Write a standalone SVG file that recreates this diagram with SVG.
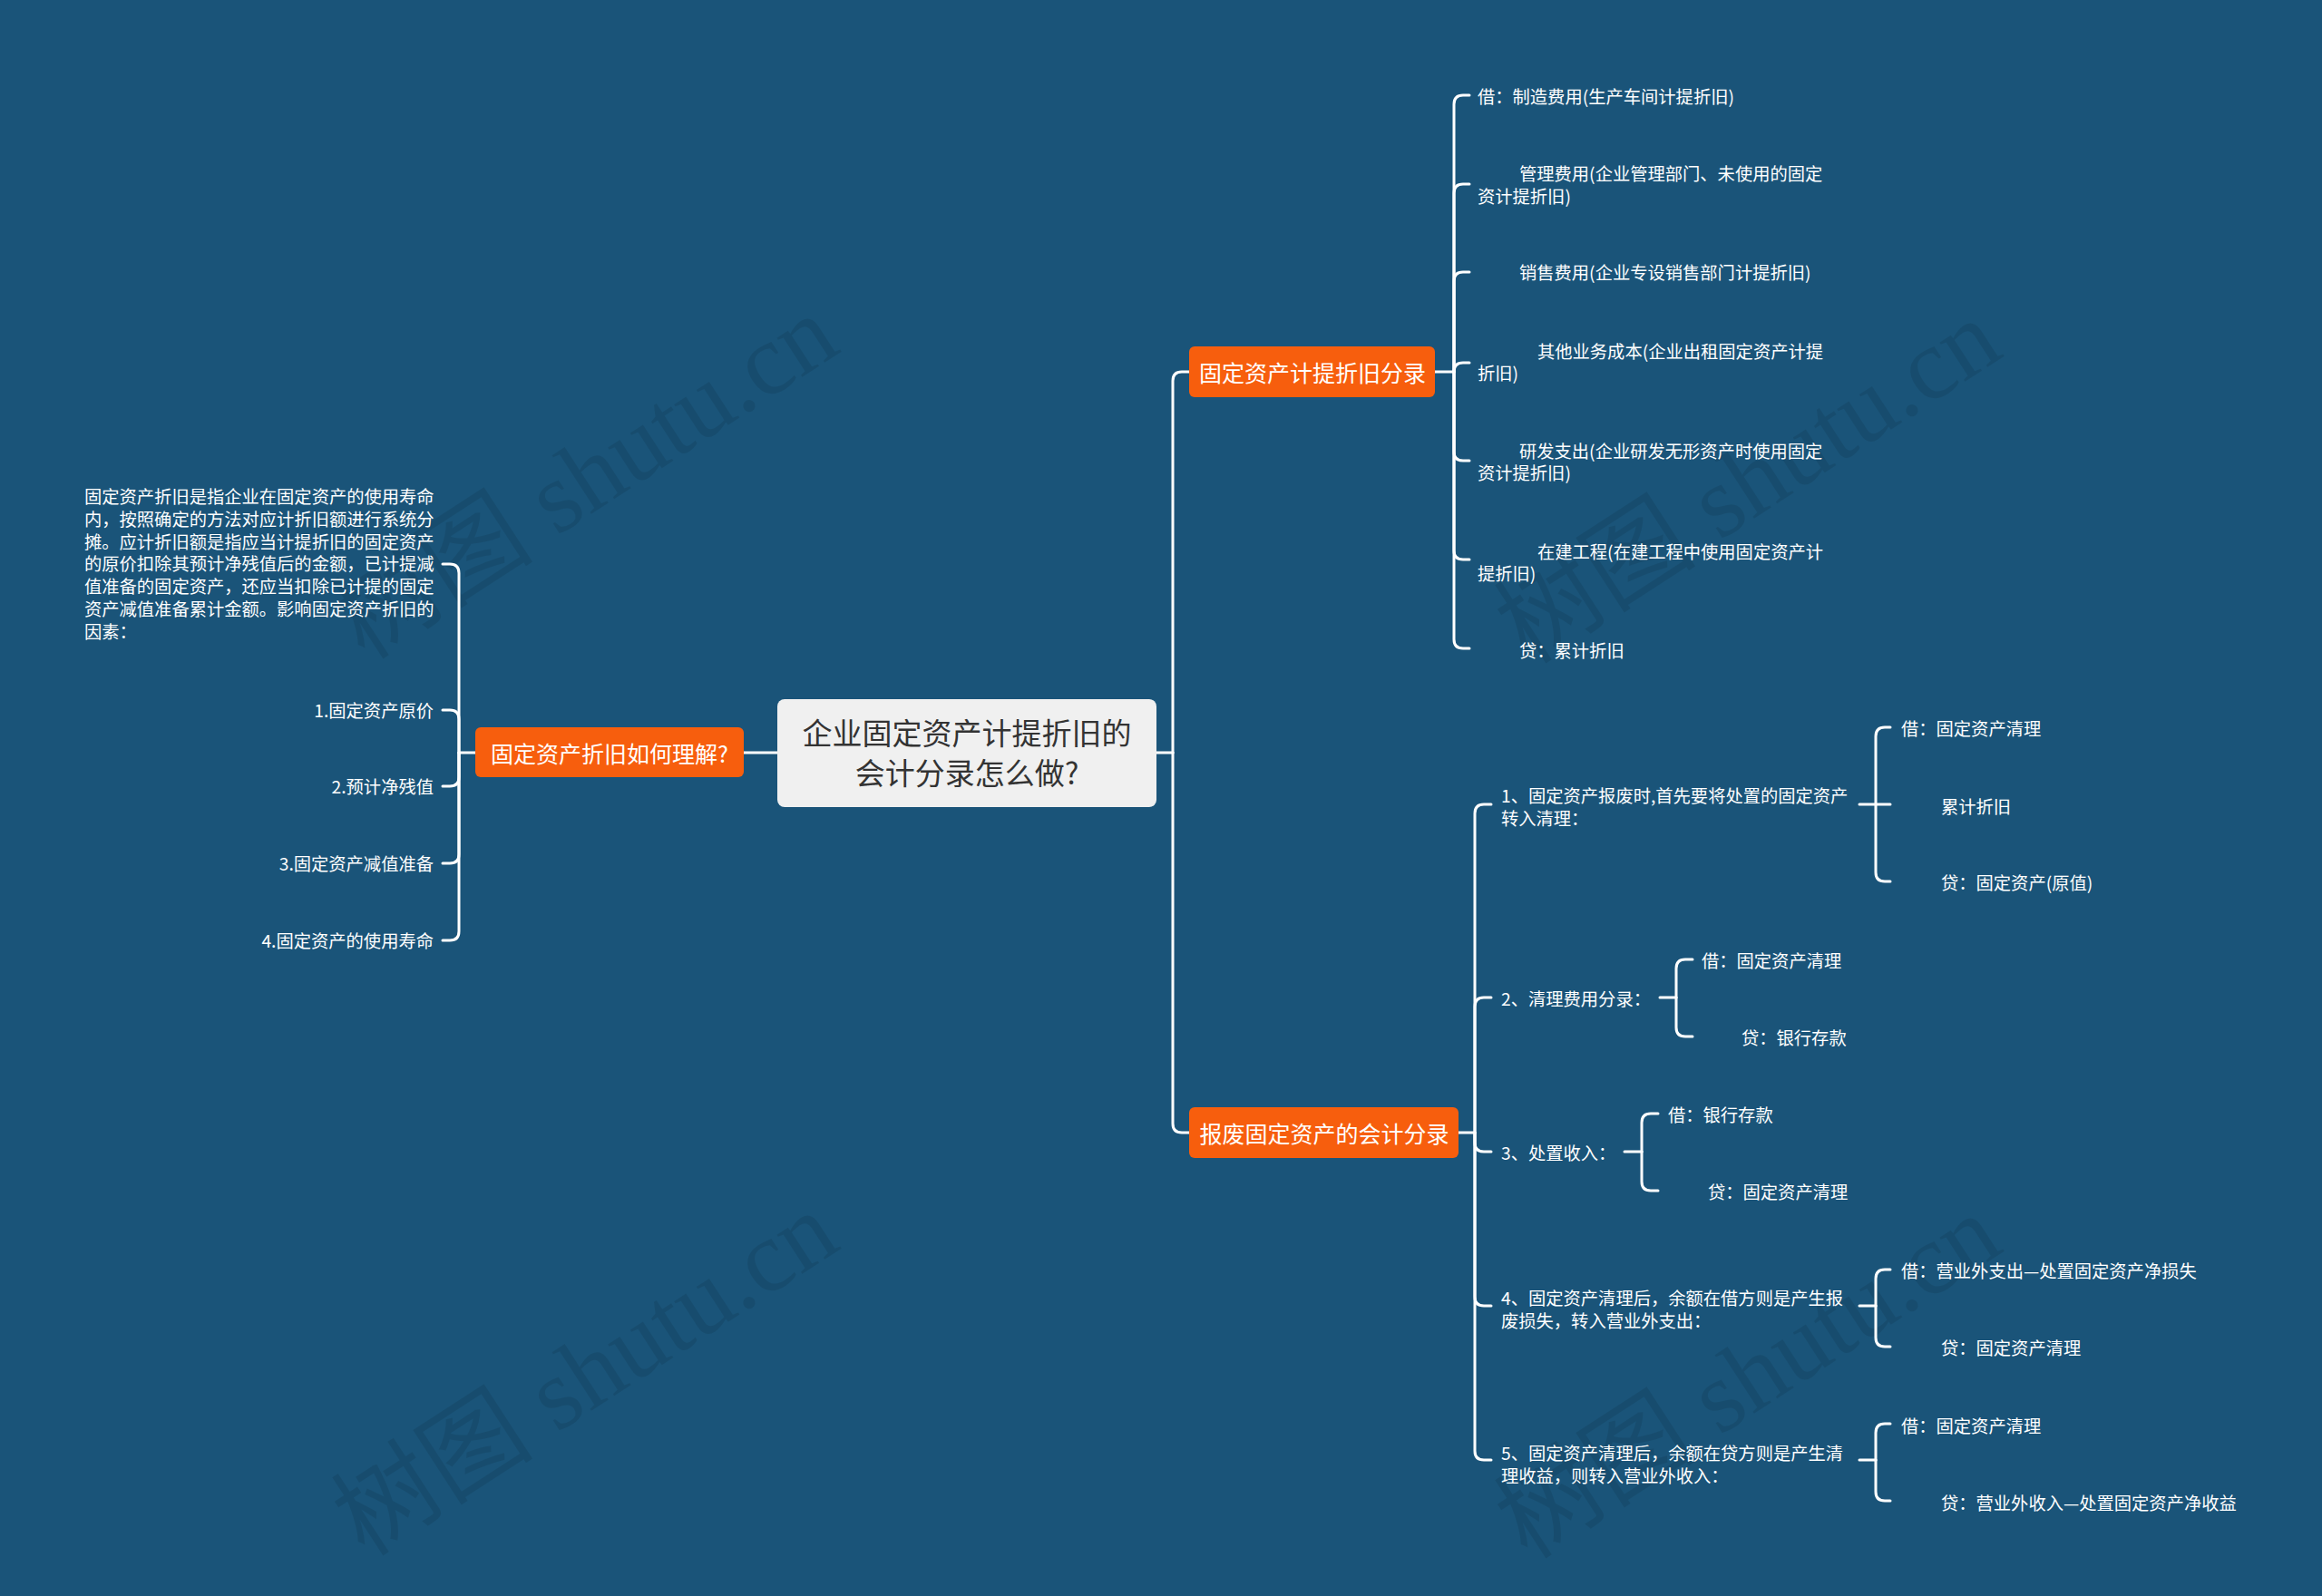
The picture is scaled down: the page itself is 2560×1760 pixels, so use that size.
<svg xmlns="http://www.w3.org/2000/svg" width="2560" height="1760" viewBox="0 0 2560 1760">
<style>
.bg{fill:#1a5479}
.wm{font-family:"Liberation Serif","Noto Sans CJK SC",serif;font-size:112px;fill:#000;fill-opacity:0.09}
.c{fill:none;stroke:#ffffff;stroke-width:3;stroke-linecap:round;stroke-linejoin:round}
.root{fill:#f0f0f0}
.org{fill:#f75e0d}
.rt{font-family:"Noto Sans CJK SC","Noto Sans",sans-serif;font-size:33px;fill:#333333;text-anchor:middle;dominant-baseline:central}
.ot{font-family:"Noto Sans CJK SC","Noto Sans",sans-serif;font-size:25px;fill:#ffffff;text-anchor:middle;dominant-baseline:central}
.t{font-family:"Noto Sans CJK SC","Noto Sans",sans-serif;font-size:19.3px;fill:#ffffff;dominant-baseline:central}
.r{text-anchor:end}
</style>
<rect class="bg" x="0" y="0" width="2560" height="1760"/>
<g id="watermarks">
<text class="wm" x="645" y="526" text-anchor="middle" dominant-baseline="central" transform="rotate(-33 645 526)">树图 shutu.cn</text>
<text class="wm" x="1927" y="531" text-anchor="middle" dominant-baseline="central" transform="rotate(-33 1927 531)">树图 shutu.cn</text>
<text class="wm" x="645" y="1515" text-anchor="middle" dominant-baseline="central" transform="rotate(-33 645 1515)">树图 shutu.cn</text>
<text class="wm" x="1927" y="1518" text-anchor="middle" dominant-baseline="central" transform="rotate(-33 1927 1518)">树图 shutu.cn</text>
</g>
<g id="connectors">
<path class="c" d="M857,830 L820,830"/>
<path class="c" d="M524,830 L506,830"/>
<path class="c" d="M506,830 L506,632 Q506,622 496,622 L488,622"/>
<path class="c" d="M506,830 L506,793 Q506,783 496,783 L488,783"/>
<path class="c" d="M506,830 L506,857 Q506,867 496,867 L488,867"/>
<path class="c" d="M506,830 L506,942 Q506,952 496,952 L488,952"/>
<path class="c" d="M506,830 L506,1027 Q506,1037 496,1037 L488,1037"/>
<path class="c" d="M1275,830 L1293,830"/>
<path class="c" d="M1293,830 L1293,420 Q1293,410 1303,410 L1311,410"/>
<path class="c" d="M1293,830 L1293,1239 Q1293,1249 1303,1249 L1311,1249"/>
<path class="c" d="M1582,410 L1603,410"/>
<path class="c" d="M1603,410 L1603,115 Q1603,105 1613,105 L1620,105"/>
<path class="c" d="M1603,410 L1603,213 Q1603,203 1613,203 L1620,203"/>
<path class="c" d="M1603,410 L1603,310 Q1603,300 1613,300 L1620,300"/>
<path class="c" d="M1603,410 Q1603,400 1613,400 L1620,400"/>
<path class="c" d="M1603,410 L1603,498 Q1603,508 1613,508 L1620,508"/>
<path class="c" d="M1603,410 L1603,607 Q1603,617 1613,617 L1620,617"/>
<path class="c" d="M1603,410 L1603,705 Q1603,715 1613,715 L1620,715"/>
<path class="c" d="M1608,1249 L1626,1249"/>
<path class="c" d="M1626,1249 L1626,897 Q1626,887 1636,887 L1644,887"/>
<path class="c" d="M1626,1249 L1626,1110 Q1626,1100 1636,1100 L1644,1100"/>
<path class="c" d="M1626,1249 L1626,1260 Q1626,1270 1636,1270 L1644,1270"/>
<path class="c" d="M1626,1249 L1626,1430 Q1626,1440 1636,1440 L1644,1440"/>
<path class="c" d="M1626,1249 L1626,1600 Q1626,1610 1636,1610 L1644,1610"/>
<path class="c" d="M2050,887 L2084,887"/>
<path class="c" d="M2068,887 L2068,812 Q2068,802 2078,802 L2084,802"/>
<path class="c" d="M2068,887 L2068,962 Q2068,972 2078,972 L2084,972"/>
<path class="c" d="M1830,1100 L1848,1100"/>
<path class="c" d="M1848,1100 L1848,1068 Q1848,1058 1858,1058 L1866,1058"/>
<path class="c" d="M1848,1100 L1848,1133 Q1848,1143 1858,1143 L1866,1143"/>
<path class="c" d="M1791,1270 L1810,1270"/>
<path class="c" d="M1810,1270 L1810,1238 Q1810,1228 1820,1228 L1828,1228"/>
<path class="c" d="M1810,1270 L1810,1303 Q1810,1313 1820,1313 L1828,1313"/>
<path class="c" d="M2050,1440 L2068,1440"/>
<path class="c" d="M2068,1440 L2068,1410 Q2068,1400 2078,1400 L2084,1400"/>
<path class="c" d="M2068,1440 L2068,1475 Q2068,1485 2078,1485 L2084,1485"/>
<path class="c" d="M2050,1610 L2068,1610"/>
<path class="c" d="M2068,1610 L2068,1580 Q2068,1570 2078,1570 L2084,1570"/>
<path class="c" d="M2068,1610 L2068,1645 Q2068,1655 2078,1655 L2084,1655"/>
</g>
<g id="root">
<rect class="root" x="857" y="771" width="418" height="119" rx="8"/>
<text class="rt" x="1066" y="807">企业固定资产计提折旧的</text>
<text class="rt" x="1066" y="851">会计分录怎么做?</text>
</g>
<g id="n-left">
<rect class="org" x="524" y="802" width="296" height="55" rx="6"/>
<text class="ot" x="672" y="830">固定资产折旧如何理解?</text>
</g>
<g id="n-left-desc">
<text class="t" x="93" y="547">固定资产折旧是指企业在固定资产的使用寿命</text>
<text class="t" x="93" y="572">内，按照确定的方法对应计折旧额进行系统分</text>
<text class="t" x="93" y="597">摊。应计折旧额是指应当计提折旧的固定资产</text>
<text class="t" x="93" y="621">的原价扣除其预计净残值后的金额，已计提减</text>
<text class="t" x="93" y="646">值准备的固定资产，还应当扣除已计提的固定</text>
<text class="t" x="93" y="671">资产减值准备累计金额。影响固定资产折旧的</text>
<text class="t" x="93" y="696">因素：</text>
</g>
<g id="n-left-1"><text class="t r" x="478" y="783">1.固定资产原价</text></g>
<g id="n-left-2"><text class="t r" x="478" y="867">2.预计净残值</text></g>
<g id="n-left-3"><text class="t r" x="478" y="952">3.固定资产减值准备</text></g>
<g id="n-left-4"><text class="t r" x="478" y="1037">4.固定资产的使用寿命</text></g>
<g id="n-top">
<rect class="org" x="1311" y="382" width="271" height="56" rx="6"/>
<text class="ot" x="1447" y="410">固定资产计提折旧分录</text>
</g>
<g id="n-top-1"><text class="t" x="1629" y="106">借：制造费用(生产车间计提折旧)</text></g>
<g id="n-top-2"><text class="t" x="1675" y="191">管理费用(企业管理部门、未使用的固定</text><text class="t" x="1629" y="216">资计提折旧)</text></g>
<g id="n-top-3"><text class="t" x="1675" y="300">销售费用(企业专设销售部门计提折旧)</text></g>
<g id="n-top-4"><text class="t" x="1695" y="387">其他业务成本(企业出租固定资产计提</text><text class="t" x="1629" y="411">折旧)</text></g>
<g id="n-top-5"><text class="t" x="1675" y="497">研发支出(企业研发无形资产时使用固定</text><text class="t" x="1629" y="521">资计提折旧)</text></g>
<g id="n-top-6"><text class="t" x="1695" y="608">在建工程(在建工程中使用固定资产计</text><text class="t" x="1629" y="632">提折旧)</text></g>
<g id="n-top-7"><text class="t" x="1675" y="717">贷：累计折旧</text></g>
<g id="n-bottom">
<rect class="org" x="1311" y="1221" width="297" height="56" rx="6"/>
<text class="ot" x="1460" y="1249">报废固定资产的会计分录</text>
</g>
<g id="n-b1"><text class="t" x="1655" y="877">1、固定资产报废时,首先要将处置的固定资产</text><text class="t" x="1655" y="902">转入清理：</text></g>
<g id="n-b1-1"><text class="t" x="2096" y="803">借：固定资产清理</text></g>
<g id="n-b1-2"><text class="t" x="2140" y="889">累计折旧</text></g>
<g id="n-b1-3"><text class="t" x="2140" y="973">贷：固定资产(原值)</text></g>
<g id="n-b2"><text class="t" x="1655" y="1101">2、清理费用分录：</text></g>
<g id="n-b2-1"><text class="t" x="1876" y="1059">借：固定资产清理</text></g>
<g id="n-b2-2"><text class="t" x="1920" y="1144">贷：银行存款</text></g>
<g id="n-b3"><text class="t" x="1655" y="1271">3、处置收入：</text></g>
<g id="n-b3-1"><text class="t" x="1839" y="1229">借：银行存款</text></g>
<g id="n-b3-2"><text class="t" x="1883" y="1314">贷：固定资产清理</text></g>
<g id="n-b4"><text class="t" x="1655" y="1431">4、固定资产清理后，余额在借方则是产生报</text><text class="t" x="1655" y="1456">废损失，转入营业外支出：</text></g>
<g id="n-b4-1"><text class="t" x="2096" y="1401">借：营业外支出—处置固定资产净损失</text></g>
<g id="n-b4-2"><text class="t" x="2140" y="1486">贷：固定资产清理</text></g>
<g id="n-b5"><text class="t" x="1655" y="1602">5、固定资产清理后，余额在贷方则是产生清</text><text class="t" x="1655" y="1627">理收益，则转入营业外收入：</text></g>
<g id="n-b5-1"><text class="t" x="2096" y="1572">借：固定资产清理</text></g>
<g id="n-b5-2"><text class="t" x="2140" y="1657">贷：营业外收入—处置固定资产净收益</text></g>
</svg>
